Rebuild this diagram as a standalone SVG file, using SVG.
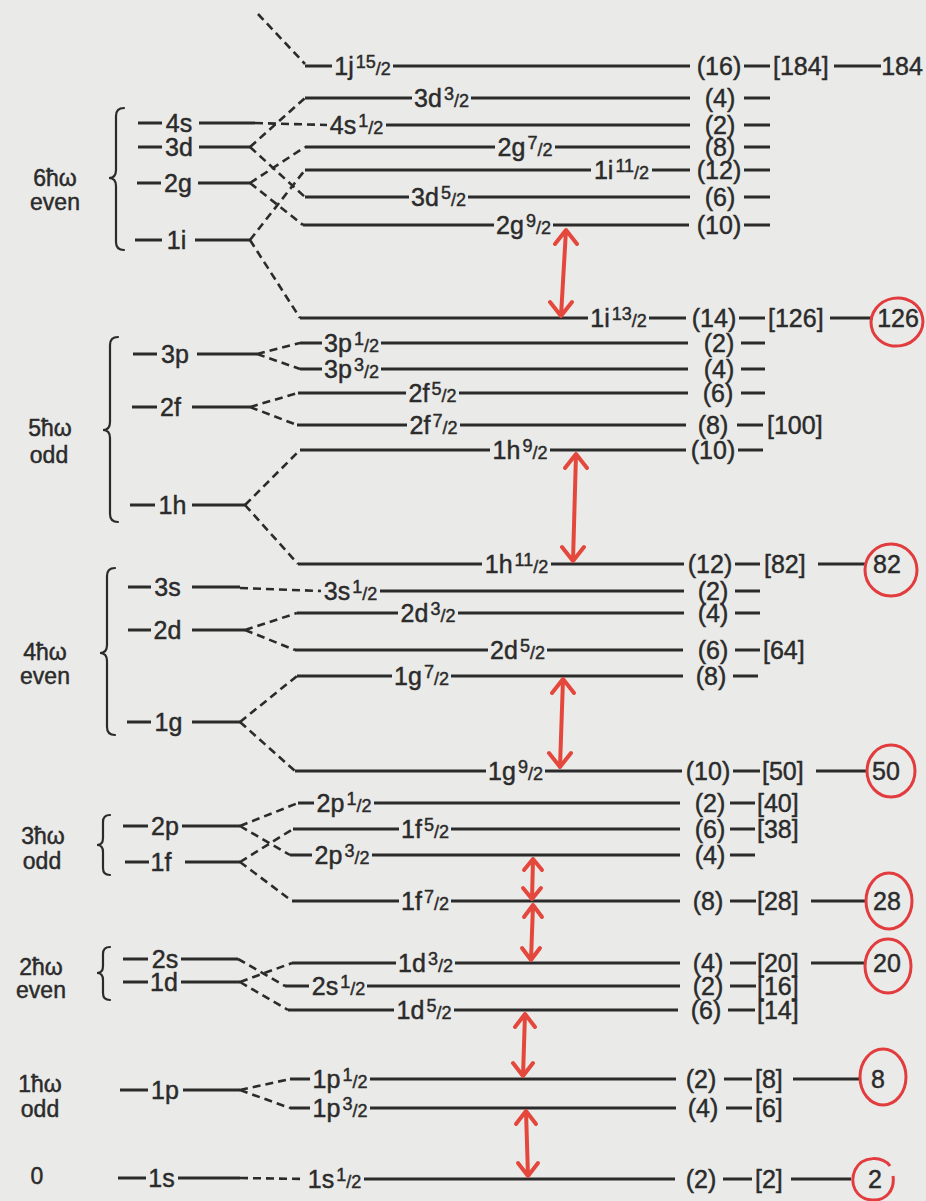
<svg xmlns="http://www.w3.org/2000/svg" width="926" height="1201" viewBox="0 0 926 1201">
<style>
.ln{stroke:#2b2b2b;stroke-width:3;fill:none}
.dl{stroke:#2b2b2b;stroke-width:2.6;stroke-dasharray:8 5;fill:none}
.t{font-family:"Liberation Sans",Arial,sans-serif;font-size:25px;fill:#2b2b2b;stroke:#2b2b2b;stroke-width:0.45}
.o{font-size:23px}
.m{text-anchor:middle}
.f{font-size:18px}
.br{stroke:#2b2b2b;stroke-width:2.2;fill:none;stroke-linecap:round}
.ar{stroke:#e4483c;stroke-width:4;fill:none;stroke-linecap:round;stroke-linejoin:round}
.ci{stroke:#e23c3e;stroke-width:3;fill:none}
</style>
<rect width="926" height="1201" fill="#eaeae8"/>

<!-- oscillator shells -->
<g id="osc-6">
<text class="t o m" x="55" y="186">6ħω</text><text class="t o m" x="55" y="210">even</text>
<path class="br" d="M124,108 Q116,108 116,116 L116,170 Q116,178 109,178 Q116,178 116,186 L116,242 Q116,250 124,250"/>
</g>
<g id="osc-5">
<text class="t o m" x="50" y="436">5ħω</text><text class="t o m" x="49" y="463">odd</text>
<path class="br" d="M118,337 Q110,337 110,345 L110,422 Q110,430 103,430 Q110,430 110,438 L110,514 Q110,522 118,522"/>
</g>
<g id="osc-4">
<text class="t o m" x="45" y="660">4ħω</text><text class="t o m" x="45" y="684">even</text>
<path class="br" d="M115,568 Q107,568 107,576 L107,645 Q107,653 100,653 Q107,653 107,661 L107,727 Q107,735 115,735"/>
</g>
<g id="osc-3">
<text class="t o m" x="43" y="844">3ħω</text><text class="t o m" x="42" y="869">odd</text>
<path class="br" d="M110,815 Q103,815 103,822 L103,838 Q103,845 97,845 Q103,845 103,852 L103,868 Q103,875 110,875"/>
</g>
<g id="osc-2">
<text class="t o m" x="41" y="975">2ħω</text><text class="t o m" x="41" y="998">even</text>
<path class="br" d="M110,947 Q103,947 103,954 L103,966 Q103,973 97,973 Q103,973 103,980 L103,993 Q103,1000 110,1000"/>
</g>
<g id="osc-1">
<text class="t o m" x="40" y="1092">1ħω</text><text class="t o m" x="40" y="1117">odd</text>
</g>
<g id="osc-0">
<text class="t o m" x="37" y="1184">0</text>
</g>

<!-- unsplit oscillator levels -->
<g id="n-4s"><line class="ln" x1="138" y1="123" x2="162" y2="123"/><text class="t m" x="179" y="132">4s</text><line class="ln" x1="199" y1="123" x2="255" y2="123"/></g>
<g id="n-3d"><line class="ln" x1="138" y1="147" x2="162" y2="147"/><text class="t m" x="179" y="156">3d</text><line class="ln" x1="199" y1="147" x2="250" y2="147"/></g>
<g id="n-2g"><line class="ln" x1="137" y1="183" x2="161" y2="183"/><text class="t m" x="178" y="192">2g</text><line class="ln" x1="198" y1="183" x2="250" y2="183"/></g>
<g id="n-1i"><line class="ln" x1="135" y1="240" x2="162" y2="240"/><text class="t m" x="176.5" y="249">1i</text><line class="ln" x1="195" y1="240" x2="250" y2="240"/></g>
<g id="n-3p"><line class="ln" x1="133" y1="354" x2="157" y2="354"/><text class="t m" x="175" y="363">3p</text><line class="ln" x1="197" y1="354" x2="257" y2="354"/></g>
<g id="n-2f"><line class="ln" x1="132" y1="407" x2="157" y2="407"/><text class="t m" x="170.5" y="416">2f</text><line class="ln" x1="192" y1="407" x2="250" y2="407"/></g>
<g id="n-1h"><line class="ln" x1="130" y1="505" x2="155" y2="505"/><text class="t m" x="172.5" y="514">1h</text><line class="ln" x1="192" y1="505" x2="245" y2="505"/></g>
<g id="n-3s"><line class="ln" x1="128" y1="587" x2="151" y2="587"/><text class="t m" x="167.5" y="596">3s</text><line class="ln" x1="192" y1="587" x2="240" y2="587"/></g>
<g id="n-2d"><line class="ln" x1="128" y1="630" x2="151" y2="630"/><text class="t m" x="167.5" y="639">2d</text><line class="ln" x1="192" y1="630" x2="245" y2="630"/></g>
<g id="n-1g"><line class="ln" x1="127" y1="722" x2="151" y2="722"/><text class="t m" x="168.5" y="731">1g</text><line class="ln" x1="192" y1="722" x2="240" y2="722"/></g>
<g id="n-2p"><line class="ln" x1="123" y1="826" x2="148" y2="826"/><text class="t m" x="165" y="835">2p</text><line class="ln" x1="182" y1="826" x2="240" y2="826"/></g>
<g id="n-1f"><line class="ln" x1="125" y1="862" x2="149" y2="862"/><text class="t m" x="161" y="871">1f</text><line class="ln" x1="185" y1="862" x2="240" y2="862"/></g>
<g id="n-2s"><line class="ln" x1="123" y1="959" x2="148" y2="959"/><text class="t m" x="165" y="968">2s</text><line class="ln" x1="181" y1="959" x2="238" y2="959"/></g>
<g id="n-1d"><line class="ln" x1="123" y1="982" x2="148" y2="982"/><text class="t m" x="164" y="991">1d</text><line class="ln" x1="181" y1="982" x2="240" y2="982"/></g>
<g id="n-1p"><line class="ln" x1="120" y1="1090" x2="148" y2="1090"/><text class="t m" x="165" y="1099">1p</text><line class="ln" x1="183" y1="1090" x2="240" y2="1090"/></g>
<g id="n-1s"><line class="ln" x1="118" y1="1178" x2="146" y2="1178"/><text class="t m" x="161.5" y="1187">1s</text><line class="ln" x1="178" y1="1178" x2="240" y2="1178"/></g>

<!-- connectors -->
<g id="connectors">
<path class="dl" d="M258,14 L305,64"/>
<path class="dl" d="M255,123 L327,125"/>
<path class="dl" d="M250,147 L305,98 M250,147 L305,197"/>
<path class="dl" d="M250,183 L305,147 M250,183 L303,225"/>
<path class="dl" d="M250,240 L305,170 M250,240 L300,318"/>
<path class="dl" d="M257,354 L300,343 M257,354 L300,369"/>
<path class="dl" d="M250,407 L298,393 M250,407 L297,425"/>
<path class="dl" d="M245,505 L300,450 M245,505 L298,564"/>
<path class="dl" d="M240,588 L321,591"/>
<path class="dl" d="M245,630 L297,613 M245,630 L295,650"/>
<path class="dl" d="M240,722 L297,676 M240,722 L295,771"/>
<path class="dl" d="M240,826 L298,803 M240,826 L290,855"/>
<path class="dl" d="M240,862 L293,829 M240,862 L292,901"/>
<path class="dl" d="M238,959 L285,986"/>
<path class="dl" d="M240,982 L292,963 M240,982 L288,1010"/>
<path class="dl" d="M240,1090 L290,1079 M240,1090 L290,1108"/>
<path class="dl" d="M240,1178 L305,1179"/>
</g>

<!-- split levels -->
<g id="l-1j15"><line class="ln" x1="305" y1="66" x2="332" y2="66"/><text class="t m" x="362.5" y="75">1j<tspan class="f" dx="2" dy="-7">15</tspan><tspan class="f" dy="7">/2</tspan></text><line class="ln" x1="393" y1="66" x2="690" y2="66"/><text class="t m" x="719" y="75">(16)</text><line class="ln" x1="744" y1="66" x2="770" y2="66"/><text class="t" x="773" y="75">[184]</text><line class="ln" x1="834" y1="66" x2="881" y2="66"/><text class="t m" x="902" y="75">184</text></g>
<g id="l-3d3"><line class="ln" x1="305" y1="98" x2="412" y2="98"/><text class="t m" x="441.5" y="107">3d<tspan class="f" dx="2" dy="-7">3</tspan><tspan class="f" dy="7">/2</tspan></text><line class="ln" x1="471" y1="98" x2="690" y2="98"/><text class="t m" x="720" y="107">(4)</text><line class="ln" x1="744" y1="98" x2="770" y2="98"/></g>
<g id="l-4s1"><text class="t m" x="356.5" y="134">4s<tspan class="f" dx="2" dy="-7">1</tspan><tspan class="f" dy="7">/2</tspan></text><line class="ln" x1="386" y1="125" x2="690" y2="125"/><text class="t m" x="720" y="134">(2)</text><line class="ln" x1="744" y1="125" x2="770" y2="125"/></g>
<g id="l-2g7"><line class="ln" x1="305" y1="147" x2="495" y2="147"/><text class="t m" x="525" y="156">2g<tspan class="f" dx="2" dy="-7">7</tspan><tspan class="f" dy="7">/2</tspan></text><line class="ln" x1="555" y1="147" x2="690" y2="147"/><text class="t m" x="720" y="156">(8)</text><line class="ln" x1="744" y1="147" x2="770" y2="147"/></g>
<g id="l-1i11"><line class="ln" x1="305" y1="170" x2="591" y2="170"/><text class="t m" x="621.5" y="179">1i<tspan class="f" dx="2" dy="-7">11</tspan><tspan class="f" dy="7">/2</tspan></text><line class="ln" x1="652" y1="170" x2="690" y2="170"/><text class="t m" x="719" y="179">(12)</text><line class="ln" x1="744" y1="170" x2="770" y2="170"/></g>
<g id="l-3d5"><line class="ln" x1="305" y1="197" x2="409" y2="197"/><text class="t m" x="438.5" y="206">3d<tspan class="f" dx="2" dy="-7">5</tspan><tspan class="f" dy="7">/2</tspan></text><line class="ln" x1="468" y1="197" x2="690" y2="197"/><text class="t m" x="720" y="206">(6)</text><line class="ln" x1="744" y1="197" x2="770" y2="197"/></g>
<g id="l-2g9"><line class="ln" x1="303" y1="225" x2="494" y2="225"/><text class="t m" x="523.5" y="234">2g<tspan class="f" dx="2" dy="-7">9</tspan><tspan class="f" dy="7">/2</tspan></text><line class="ln" x1="553" y1="225" x2="689" y2="225"/><text class="t m" x="719" y="234">(10)</text><line class="ln" x1="744" y1="225" x2="770" y2="225"/></g>
<g id="l-1i13"><line class="ln" x1="300" y1="318" x2="588" y2="318"/><text class="t m" x="618.5" y="327">1i<tspan class="f" dx="2" dy="-7">13</tspan><tspan class="f" dy="7">/2</tspan></text><line class="ln" x1="649" y1="318" x2="686" y2="318"/><text class="t m" x="714" y="327">(14)</text><line class="ln" x1="739" y1="318" x2="765" y2="318"/><text class="t" x="768" y="327">[126]</text><line class="ln" x1="830" y1="318" x2="873" y2="318"/><text class="t m" x="898" y="327">126</text></g>
<g id="l-3p1"><line class="ln" x1="300" y1="343" x2="322" y2="343"/><text class="t m" x="351.5" y="352">3p<tspan class="f" dx="2" dy="-7">1</tspan><tspan class="f" dy="7">/2</tspan></text><line class="ln" x1="381" y1="343" x2="688" y2="343"/><text class="t m" x="719" y="352">(2)</text><line class="ln" x1="741" y1="343" x2="765" y2="343"/></g>
<g id="l-3p3"><line class="ln" x1="300" y1="369" x2="322" y2="369"/><text class="t m" x="351.5" y="378">3p<tspan class="f" dx="2" dy="-7">3</tspan><tspan class="f" dy="7">/2</tspan></text><line class="ln" x1="381" y1="369" x2="688" y2="369"/><text class="t m" x="719" y="378">(4)</text><line class="ln" x1="741" y1="369" x2="765" y2="369"/></g>
<g id="l-2f5"><line class="ln" x1="298" y1="393" x2="406" y2="393"/><text class="t m" x="432.5" y="402">2f<tspan class="f" dx="2" dy="-7">5</tspan><tspan class="f" dy="7">/2</tspan></text><line class="ln" x1="459" y1="393" x2="688" y2="393"/><text class="t m" x="718" y="402">(6)</text><line class="ln" x1="741" y1="393" x2="765" y2="393"/></g>
<g id="l-2f7"><line class="ln" x1="297" y1="425" x2="407" y2="425"/><text class="t m" x="433.5" y="434">2f<tspan class="f" dx="2" dy="-7">7</tspan><tspan class="f" dy="7">/2</tspan></text><line class="ln" x1="460" y1="425" x2="686" y2="425"/><text class="t m" x="713" y="434">(8)</text><line class="ln" x1="737" y1="425" x2="763" y2="425"/><text class="t" x="767" y="434">[100]</text></g>
<g id="l-1h9"><line class="ln" x1="300" y1="450" x2="490" y2="450"/><text class="t m" x="520" y="459">1h<tspan class="f" dx="2" dy="-7">9</tspan><tspan class="f" dy="7">/2</tspan></text><line class="ln" x1="550" y1="450" x2="686" y2="450"/><text class="t m" x="713" y="459">(10)</text><line class="ln" x1="738" y1="450" x2="763" y2="450"/></g>
<g id="l-1h11"><line class="ln" x1="298" y1="564" x2="482" y2="564"/><text class="t m" x="516.5" y="573">1h<tspan class="f" dx="2" dy="-7">11</tspan><tspan class="f" dy="7">/2</tspan></text><line class="ln" x1="551" y1="564" x2="684" y2="564"/><text class="t m" x="710" y="573">(12)</text><line class="ln" x1="735" y1="564" x2="760" y2="564"/><text class="t" x="764" y="573">[82]</text><line class="ln" x1="818" y1="564" x2="866" y2="564"/><text class="t m" x="887" y="573">82</text></g>
<g id="l-3s1"><text class="t m" x="350.5" y="600">3s<tspan class="f" dx="2" dy="-7">1</tspan><tspan class="f" dy="7">/2</tspan></text><line class="ln" x1="380" y1="591" x2="684" y2="591"/><text class="t m" x="713" y="600">(2)</text><line class="ln" x1="735" y1="591" x2="760" y2="591"/></g>
<g id="l-2d3"><line class="ln" x1="297" y1="613" x2="398" y2="613"/><text class="t m" x="428" y="622">2d<tspan class="f" dx="2" dy="-7">3</tspan><tspan class="f" dy="7">/2</tspan></text><line class="ln" x1="458" y1="613" x2="684" y2="613"/><text class="t m" x="713" y="622">(4)</text><line class="ln" x1="735" y1="613" x2="760" y2="613"/></g>
<g id="l-2d5"><line class="ln" x1="295" y1="650" x2="488" y2="650"/><text class="t m" x="517.5" y="659">2d<tspan class="f" dx="2" dy="-7">5</tspan><tspan class="f" dy="7">/2</tspan></text><line class="ln" x1="547" y1="650" x2="683" y2="650"/><text class="t m" x="713" y="659">(6)</text><line class="ln" x1="735" y1="650" x2="760" y2="650"/><text class="t" x="763" y="659">[64]</text></g>
<g id="l-1g7"><line class="ln" x1="297" y1="676" x2="392" y2="676"/><text class="t m" x="421.5" y="685">1g<tspan class="f" dx="2" dy="-7">7</tspan><tspan class="f" dy="7">/2</tspan></text><line class="ln" x1="451" y1="676" x2="683" y2="676"/><text class="t m" x="711" y="685">(8)</text><line class="ln" x1="733" y1="676" x2="758" y2="676"/></g>
<g id="l-1g9"><line class="ln" x1="295" y1="771" x2="486" y2="771"/><text class="t m" x="515.5" y="780">1g<tspan class="f" dx="2" dy="-7">9</tspan><tspan class="f" dy="7">/2</tspan></text><line class="ln" x1="545" y1="771" x2="682" y2="771"/><text class="t m" x="708" y="780">(10)</text><line class="ln" x1="733" y1="771" x2="760" y2="771"/><text class="t" x="762" y="780">[50]</text><line class="ln" x1="816" y1="771" x2="866" y2="771"/><text class="t m" x="886" y="780">50</text></g>
<g id="l-2p1"><line class="ln" x1="298" y1="803" x2="314" y2="803"/><text class="t m" x="344" y="812">2p<tspan class="f" dx="2" dy="-7">1</tspan><tspan class="f" dy="7">/2</tspan></text><line class="ln" x1="374" y1="803" x2="680" y2="803"/><text class="t m" x="710" y="812">(2)</text><line class="ln" x1="730" y1="803" x2="755" y2="803"/><text class="t" x="757" y="812">[40]</text></g>
<g id="l-1f5"><line class="ln" x1="293" y1="829" x2="399" y2="829"/><text class="t m" x="425" y="838">1f<tspan class="f" dx="2" dy="-7">5</tspan><tspan class="f" dy="7">/2</tspan></text><line class="ln" x1="451" y1="829" x2="680" y2="829"/><text class="t m" x="710" y="838">(6)</text><line class="ln" x1="730" y1="829" x2="755" y2="829"/><text class="t" x="757" y="838">[38]</text></g>
<g id="l-2p3"><line class="ln" x1="290" y1="855" x2="312" y2="855"/><text class="t m" x="342" y="864">2p<tspan class="f" dx="2" dy="-7">3</tspan><tspan class="f" dy="7">/2</tspan></text><line class="ln" x1="372" y1="855" x2="680" y2="855"/><text class="t m" x="710" y="864">(4)</text><line class="ln" x1="730" y1="855" x2="755" y2="855"/></g>
<g id="l-1f7"><line class="ln" x1="292" y1="901" x2="399" y2="901"/><text class="t m" x="425" y="910">1f<tspan class="f" dx="2" dy="-7">7</tspan><tspan class="f" dy="7">/2</tspan></text><line class="ln" x1="451" y1="901" x2="680" y2="901"/><text class="t m" x="708" y="910">(8)</text><line class="ln" x1="730" y1="901" x2="756" y2="901"/><text class="t" x="757" y="910">[28]</text><line class="ln" x1="811" y1="901" x2="866" y2="901"/><text class="t m" x="887" y="910">28</text></g>
<g id="l-1d3"><line class="ln" x1="292" y1="963" x2="396" y2="963"/><text class="t m" x="425.5" y="972">1d<tspan class="f" dx="2" dy="-7">3</tspan><tspan class="f" dy="7">/2</tspan></text><line class="ln" x1="455" y1="963" x2="680" y2="963"/><text class="t m" x="708" y="972">(4)</text><line class="ln" x1="730" y1="963" x2="756" y2="963"/><text class="t" x="757" y="972">[20]</text><line class="ln" x1="811" y1="963" x2="866" y2="963"/><text class="t m" x="887" y="972">20</text></g>
<g id="l-2s1"><line class="ln" x1="285" y1="986" x2="309" y2="986"/><text class="t m" x="338.5" y="995">2s<tspan class="f" dx="2" dy="-7">1</tspan><tspan class="f" dy="7">/2</tspan></text><line class="ln" x1="367" y1="986" x2="680" y2="986"/><text class="t m" x="708" y="995">(2)</text><line class="ln" x1="730" y1="986" x2="756" y2="986"/><text class="t" x="757" y="995">[16]</text></g>
<g id="l-1d5"><line class="ln" x1="288" y1="1010" x2="394" y2="1010"/><text class="t m" x="424" y="1019">1d<tspan class="f" dx="2" dy="-7">5</tspan><tspan class="f" dy="7">/2</tspan></text><line class="ln" x1="454" y1="1010" x2="678" y2="1010"/><text class="t m" x="706" y="1019">(6)</text><line class="ln" x1="728" y1="1010" x2="755" y2="1010"/><text class="t" x="757" y="1019">[14]</text></g>
<g id="l-1p1"><line class="ln" x1="290" y1="1079" x2="310" y2="1079"/><text class="t m" x="340" y="1088">1p<tspan class="f" dx="2" dy="-7">1</tspan><tspan class="f" dy="7">/2</tspan></text><line class="ln" x1="370" y1="1079" x2="676" y2="1079"/><text class="t m" x="701" y="1088">(2)</text><line class="ln" x1="724" y1="1079" x2="752" y2="1079"/><text class="t" x="755" y="1088">[8]</text><line class="ln" x1="793" y1="1079" x2="860" y2="1079"/><text class="t m" x="878" y="1088">8</text></g>
<g id="l-1p3"><line class="ln" x1="290" y1="1108" x2="310" y2="1108"/><text class="t m" x="340" y="1117">1p<tspan class="f" dx="2" dy="-7">3</tspan><tspan class="f" dy="7">/2</tspan></text><line class="ln" x1="370" y1="1108" x2="676" y2="1108"/><text class="t m" x="703" y="1117">(4)</text><line class="ln" x1="726" y1="1108" x2="752" y2="1108"/><text class="t" x="755" y="1117">[6]</text></g>
<g id="l-1s1"><text class="t m" x="334.5" y="1188">1s<tspan class="f" dx="2" dy="-7">1</tspan><tspan class="f" dy="7">/2</tspan></text><line class="ln" x1="364" y1="1179" x2="675" y2="1179"/><text class="t m" x="701" y="1188">(2)</text><line class="ln" x1="723" y1="1179" x2="752" y2="1179"/><text class="t" x="755" y="1188">[2]</text><line class="ln" x1="791" y1="1179" x2="851" y2="1179"/><text class="t m" x="875" y="1188">2</text></g>

<!-- red annotations -->
<g id="annotations">
<path class="ar" d="M566,230 L561,316 M555,244 L566,230 L577,244 M550,302 L561,316 L572,302"/>
<path class="ar" d="M576,454 L573,561 M565,468 L576,454 L587,468 M562,547 L573,561 L584,547"/>
<path class="ar" d="M563,679 L560,767 M552,693 L563,679 L574,693 M549,753 L560,767 L571,753"/>
<path class="ar" d="M533,859 L532,899 M524,870 L533,859 L542,870 M523,888 L532,899 L541,888"/>
<path class="ar" d="M533,905 L531,960 M524,917 L533,905 L542,917 M522,948 L531,960 L540,948"/>
<path class="ar" d="M525,1014 L523,1076 M515,1027 L525,1014 L535,1027 M513,1063 L523,1076 L533,1063"/>
<path class="ar" d="M526,1111 L528,1176 M516,1124 L526,1111 L536,1124 M518,1163 L528,1176 L538,1163"/>
<ellipse class="ci" cx="897" cy="322" rx="26" ry="24" transform="rotate(-10 897 322)"/>
<ellipse class="ci" cx="891" cy="570" rx="26" ry="26"/>
<ellipse class="ci" cx="891" cy="771" rx="24" ry="26"/>
<ellipse class="ci" cx="889" cy="901" rx="23" ry="28"/>
<ellipse class="ci" cx="888" cy="966" rx="23" ry="27"/>
<ellipse class="ci" cx="883" cy="1077" rx="23" ry="28"/>
<path class="ci" d="M890,1166 C884,1156 862,1155 855,1170 C849,1184 856,1199 872,1200 C886,1201 895,1190 893,1176"/>
</g>
</svg>
